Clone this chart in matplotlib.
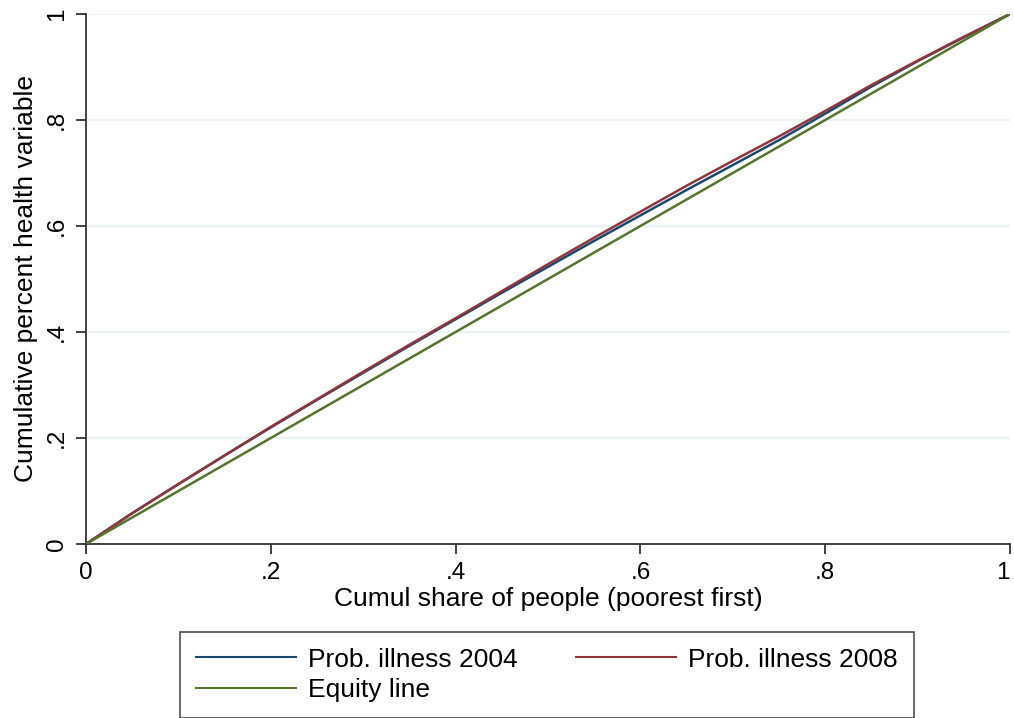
import matplotlib
matplotlib.use("Agg")
import matplotlib.pyplot as plt

# Data: cumulative share of people (poorest first)
share = [0.0, 0.05, 0.10, 0.15, 0.20, 0.25, 0.30, 0.35, 0.40, 0.45, 0.50,
         0.55, 0.60, 0.65, 0.70, 0.75, 0.80, 0.85, 0.90, 0.95, 1.0]
illness_2004 = [0.0, 0.058, 0.113, 0.167, 0.220, 0.272, 0.323, 0.374, 0.424, 0.474, 0.523,
                0.572, 0.620, 0.668, 0.715, 0.762, 0.812, 0.863, 0.911, 0.956, 1.0]
illness_2008 = [0.0, 0.058, 0.113, 0.167, 0.221, 0.273, 0.325, 0.376, 0.426, 0.477, 0.528,
                0.578, 0.627, 0.676, 0.723, 0.769, 0.817, 0.866, 0.912, 0.957, 1.0]
equity = [0.0, 1.0]
equity_x = [0.0, 1.0]

labels = ["Prob. illness 2004", "Prob. illness 2008", "Equity line"]
ticks = [0, 0.2, 0.4, 0.6, 0.8, 1.0]
tick_labels = ["0", ".2", ".4", ".6", ".8", "1"]

plt.rcParams['font.family'] = ['Liberation Sans', 'DejaVu Sans']

fig = plt.figure(figsize=(10.14, 7.18), dpi=100)
ax = fig.add_axes([86/1014, 1-544/718, (1010-86)/1014, (544-14)/718])

c_blue = '#1a476f'
c_red = '#90353b'
c_green = '#55752f'

h1, = ax.plot(share, illness_2004, color=c_blue, lw=1.8, zorder=3)
h2, = ax.plot(share, illness_2008, color=c_red, lw=1.8, zorder=4)
h3, = ax.plot(equity_x, equity, color=c_green, lw=1.8, zorder=5)

ax.set_xlim(0, 1)
ax.set_ylim(0, 1)
ax.set_xticks(ticks)
ax.set_xticklabels(tick_labels)
ax.set_yticks(ticks)
ax.set_yticklabels(tick_labels, rotation=90, va='center')

# keep the last x tick label inside the figure
ax.get_xticklabels()[-1].set_horizontalalignment('right')

for y in ticks[1:]:
    ax.axhline(y, color='#eaf2f3', lw=1.6, zorder=1)

for s in ['top', 'right']:
    ax.spines[s].set_visible(False)
for s in ['left', 'bottom']:
    ax.spines[s].set_color('#333333')
    ax.spines[s].set_linewidth(1.3)
ax.tick_params(axis='both', direction='out', length=7, width=1.3, color='#333333',
               labelsize=17.5, pad=6)

ax.set_xlabel("Cumul share of people (poorest first)", fontsize=19, labelpad=2)
ax.set_ylabel("Cumulative percent health variable", fontsize=19, labelpad=6)

leg = fig.legend([h1, h3, h2], [labels[0], labels[2], labels[1]], ncol=2,
                 loc='center', bbox_to_anchor=(547/1014, 1-675/718),
                 frameon=True, fancybox=False, edgecolor='#222222', fontsize=19,
                 handlelength=3.8, handletextpad=0.45, columnspacing=2.2,
                 borderpad=0.6, labelspacing=0.25, borderaxespad=0)
leg.get_frame().set_linewidth(1.2)
for l in leg.get_lines():
    l.set_linewidth(1.5)

fig.savefig("out.png", dpi=100, facecolor='white')
